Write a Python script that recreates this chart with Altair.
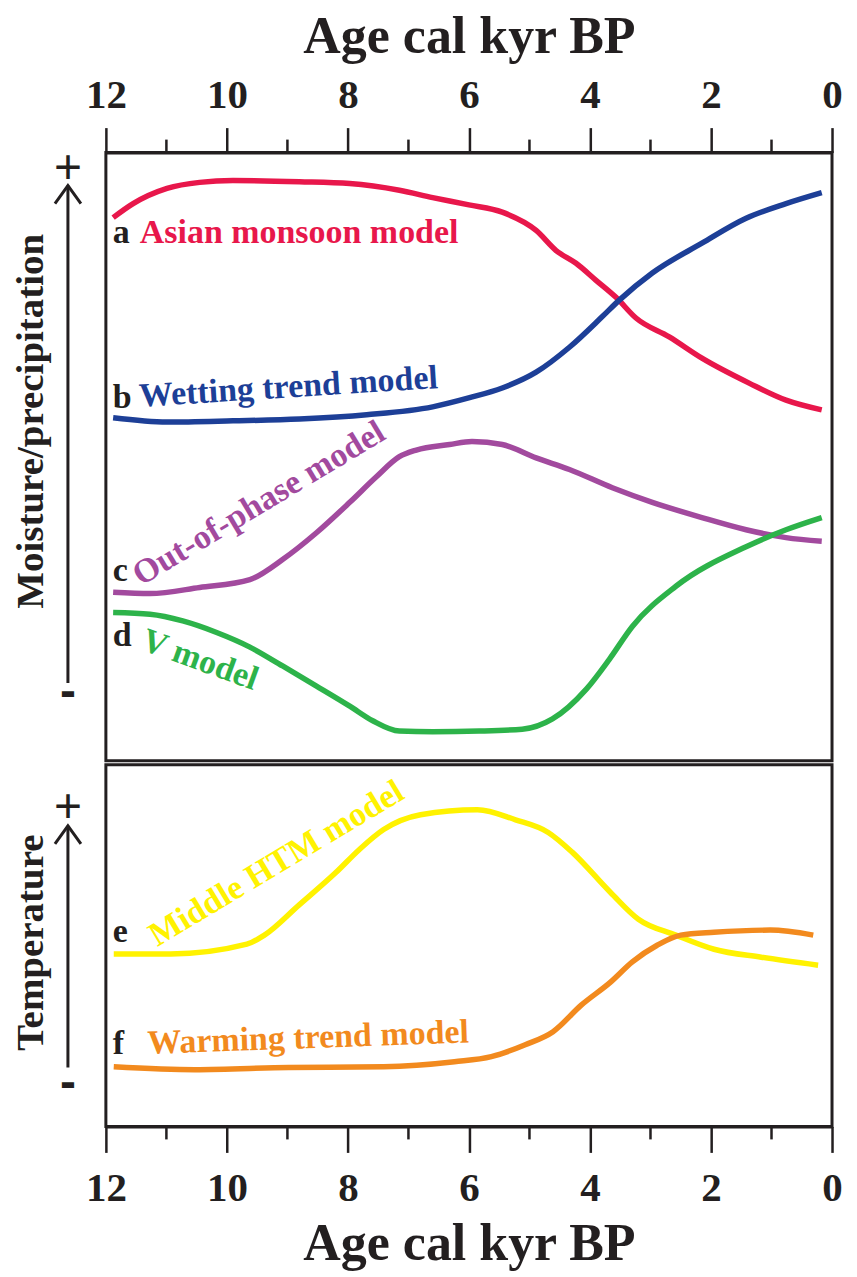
import altair as alt
import pandas as pd

# ---------------- data ----------------
ticks_major = [12, 10, 8, 6, 4, 2, 0]
ticks_minor = [11, 9, 7, 5, 3, 1]

# Top panel: moisture / precipitation (relative units, 0 = low, 100 = high)
a_age = [11.88, 11.55, 10.99, 10.45, 9.90, 8.80, 7.97, 7.15, 6.60, 6.00, 5.45, 4.89, 4.56, 4.23, 3.90, 3.57, 3.24, 2.69, 2.15, 1.37, 0.76, 0.17]
a_val = [89.3, 91.6, 94.1, 95.1, 95.4, 95.2, 94.9, 93.8, 92.6, 91.4, 90.2, 87.2, 83.9, 81.8, 79.0, 76.2, 72.8, 69.7, 66.2, 62.1, 59.3, 57.7]

b_age = [11.88, 10.99, 9.90, 8.80, 7.69, 6.60, 5.99, 5.45, 4.89, 4.34, 3.80, 3.52, 2.97, 2.15, 1.42, 0.76, 0.17]
b_val = [56.4, 55.7, 55.9, 56.2, 56.9, 58.2, 59.7, 61.3, 63.9, 68.0, 73.0, 75.7, 80.2, 85.1, 89.2, 91.6, 93.4]

c_age = [11.88, 11.27, 10.45, 9.62, 9.08, 8.52, 7.97, 7.53, 7.15, 6.87, 6.32, 5.95, 5.45, 4.89, 4.34, 3.63, 2.97, 2.15, 1.42, 0.76, 0.17]
c_val = [27.7, 27.5, 28.5, 29.8, 33.1, 37.5, 42.5, 46.7, 50.0, 51.1, 52.0, 52.5, 52.0, 49.8, 47.9, 44.9, 42.5, 40.0, 38.0, 36.7, 36.1]

d_age = [11.88, 11.27, 10.73, 10.17, 9.62, 9.08, 8.52, 7.97, 7.59, 7.15, 6.60, 5.83, 5.12, 4.62, 4.06, 3.68, 3.30, 2.58, 1.42, 0.76, 0.17]
d_val = [24.4, 24.1, 23.0, 21.1, 18.7, 15.6, 12.3, 9.0, 6.6, 4.9, 4.8, 4.9, 5.2, 6.9, 11.8, 16.7, 22.1, 28.7, 35.2, 38.0, 40.0]

# Bottom panel: temperature (relative units, 0 = low, 100 = high)
e_age = [11.87, 10.93, 9.67, 9.38, 8.81, 8.20, 7.81, 7.41, 6.80, 5.86, 5.23, 4.69, 4.29, 3.66, 3.20, 2.58, 1.95, 1.17, 0.23]
e_val = [47.7, 47.7, 50.4, 52.9, 61.2, 70.2, 76.6, 82.1, 86.2, 87.6, 84.8, 81.3, 75.8, 64.7, 57.3, 52.9, 49.0, 46.8, 44.6]

f_age = [11.87, 10.53, 8.98, 7.41, 6.24, 5.63, 5.07, 4.61, 4.14, 3.66, 3.30, 2.89, 2.50, 1.95, 1.02, 0.31]
f_val = [16.5, 15.7, 16.3, 16.5, 17.9, 19.3, 22.6, 26.2, 33.6, 39.9, 45.5, 50.1, 52.9, 53.7, 54.3, 52.9]

top_series = ["a", "b", "c", "d"]
top_colors = ["#E8174B", "#1D3F97", "#A24A9E", "#2DB34A"]
bot_series = ["e", "f"]
bot_colors = ["#FFF200", "#F28A1E"]

# curve labels: text, age, value, angle, colour
top_lab_text = ["a", "Asian monsoon model", "b", "Wetting trend model", "c", "Out-of-phase model", "d", "V model"]
top_lab_age = [11.885, 11.44, 11.885, 11.44, 11.885, 11.42, 11.885, 11.44]
top_lab_val = [85.2, 85.2, 58.0, 58.2, 29.5, 28.7, 18.9, 18.4]
top_lab_angle = [0, 0, 0, 356.4, 0, 329, 0, 20]
top_lab_color = ["#231F20", "#E8174B", "#231F20", "#1D3F97", "#231F20", "#A24A9E", "#231F20", "#2DB34A"]

bot_lab_text = ["e", "Middle HTM model", "f", "Warming trend model"]
bot_lab_age = [11.885, 11.15, 11.885, 11.31]
bot_lab_val = [51.0, 49.6, 20.1, 20.1]
bot_lab_angle = [0, 329, 0, 358]
bot_lab_color = ["#231F20", "#FFF200", "#231F20", "#F28A1E"]

# ---------------- tables ----------------
def long_table(names, colors, ages, vals):
    rows = []
    for n, c, ag, vl in zip(names, colors, ages, vals):
        for x, y in zip(ag, vl):
            rows.append({"series": n, "color": c, "age": x, "value": y})
    return pd.DataFrame(rows)

df_top = long_table(top_series, top_colors, [a_age, b_age, c_age, d_age], [a_val, b_val, c_val, d_val])
df_bot = long_table(bot_series, bot_colors, [e_age, f_age], [e_val, f_val])
lab_top = pd.DataFrame({"text": top_lab_text, "age": top_lab_age, "value": top_lab_val,
                        "angle": top_lab_angle, "color": top_lab_color})
lab_bot = pd.DataFrame({"text": bot_lab_text, "age": bot_lab_age, "value": bot_lab_val,
                        "angle": bot_lab_angle, "color": bot_lab_color})
minor_df = pd.DataFrame({"age": ticks_minor})
one = pd.DataFrame({"k": [0]})

# ---------------- styling ----------------
SERIF = "Liberation Serif"
SANS = "Liberation Sans"
INK = "#231F20"
W = 727
H_TOP = 609
H_BOT = 362

xscale = alt.Scale(domain=[12, 0], nice=False, zero=False)
yscale = alt.Scale(domain=[0, 100], nice=False, zero=False)


def xaxis(orient, tick, lpad, tpad):
    return alt.Axis(orient=orient, values=ticks_major, format="d", tickSize=tick, tickWidth=2.5,
                    tickColor=INK, domainColor=INK, domainWidth=3, grid=False,
                    labelFont=SERIF, labelFontSize=41, labelFontWeight="bold", labelColor=INK,
                    labelPadding=lpad, labelFlush=False, labelOverlap=False,
                    title="Age cal kyr BP", titleFont=SERIF, titleFontSize=52,
                    titleFontWeight="bold", titleColor=INK, titlePadding=tpad)


def panel(df, lab, ax, height, minor_y, minor_y2, ytitle, ytitle_y, plus_y, minus_y, tip_y, tail_y):
    X = alt.X("age:Q", scale=xscale, axis=ax)
    Y = alt.Y("value:Q", scale=yscale, axis=None)
    lines = alt.Chart(df).mark_line(strokeWidth=5.5, interpolate="monotone").encode(
        x=X, y=Y, color=alt.Color("color:N", scale=None), detail="series:N")
    labels = alt.Chart(lab).mark_text(font=SERIF, fontSize=34, fontWeight="bold",
                                      align="left", baseline="alphabetic").encode(
        x=X, y=Y, text="text:N", color=alt.Color("color:N", scale=None),
        angle=alt.Angle("angle:Q", scale=None))
    minor = alt.Chart(minor_df).mark_rule(color=INK, strokeWidth=2.5).encode(
        x=X, y=alt.value(minor_y), y2=alt.value(minor_y2))
    title = alt.Chart(one).mark_text(font=SERIF, fontSize=39, fontWeight="bold", color=INK,
                                     angle=270, align="center", baseline="middle").encode(
        x=alt.value(-75), y=alt.value(ytitle_y), text=alt.value(ytitle))
    plus = alt.Chart(one).mark_text(font=SANS, fontSize=48, color=INK,
                                    align="center", baseline="middle").encode(
        x=alt.value(-38), y=alt.value(plus_y), text=alt.value("+"))
    minus = alt.Chart(one).mark_text(font=SANS, fontSize=48, fontWeight="bold", color=INK,
                                     align="center", baseline="middle").encode(
        x=alt.value(-38), y=alt.value(minus_y), text=alt.value("-"))
    shaft = alt.Chart(one).mark_rule(color=INK, strokeWidth=3).encode(
        x=alt.value(-38), y=alt.value(tip_y), y2=alt.value(tail_y))
    head = alt.Chart(one).mark_point(shape="M -1 1.4 L 0 0 L 1 1.4", filled=False, size=676,
                                     strokeWidth=3, color=INK, opacity=1).encode(
        x=alt.value(-38), y=alt.value(tip_y))
    return alt.layer(lines, labels, minor, title, plus, minus, shaft, head).properties(
        width=W, height=height)


top = panel(df_top, lab_top, xaxis("top", 25, 11, 11), H_TOP, -13, 0,
            "Moisture/precipitation", 269, 16, 541, 33, 531)
bottom = panel(df_bot, lab_bot, xaxis("bottom", 26, 16, 10), H_BOT, H_BOT, H_BOT + 13,
               "Temperature", 178, 43, 320, 61, 303)

chart = alt.vconcat(top, bottom, spacing=0).properties(
    padding={"left": 2, "top": 0, "right": 5, "bottom": 5},
    background="white",
).configure_view(stroke=INK, strokeWidth=3)

chart.save("out.html", embed_options={"renderer": "svg", "actions": False})
